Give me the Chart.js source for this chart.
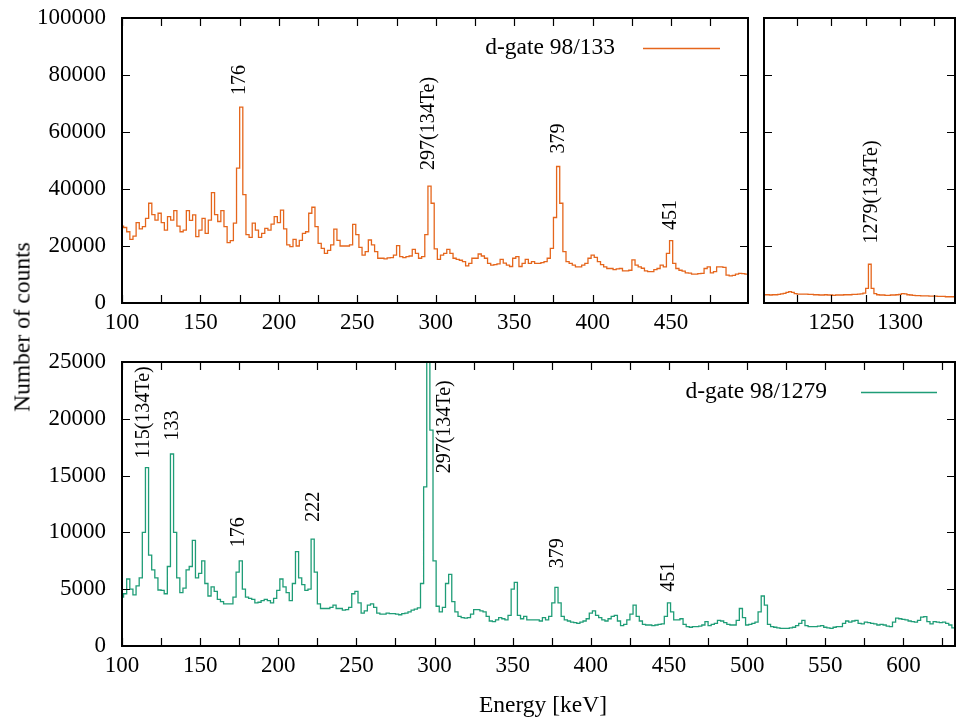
<!DOCTYPE html>
<html>
<head>
<meta charset="utf-8">
<script src="https://cdn.jsdelivr.net/npm/chart.js@4.4.1/dist/chart.umd.min.js"></script>
<style>
  body { margin: 0; width: 956px; height: 721px; background: #fff; overflow: hidden; position: relative; font-family: 'Liberation Serif', 'Times New Roman', serif; }
  .panel { position: absolute; }
  .axis-title { position: absolute; font-size: 23.5px; color: #000; white-space: nowrap; }
</style>
</head>
<body>
<div class="panel" style="left:0;top:0;width:760px;height:340px"><canvas id="topChart"></canvas></div>
<div class="panel" style="left:752px;top:0;width:204px;height:340px"><canvas id="insetChart"></canvas></div>
<div class="panel" style="left:0;top:340px;width:956px;height:381px"><canvas id="bottomChart"></canvas></div>
<div class="axis-title" id="yTitle" style="left:22px;top:327px;transform:translate(-50%,-50%) rotate(-90deg)">Number of counts</div>
<div class="axis-title" id="xTitle" style="left:543px;top:704px;transform:translate(-50%,-50%)">Energy [keV]</div>
<script>
// histogram bins, 2 keV wide, first bin starts at *Start
const binWidth = 2;

// d-gate 98/133, low energy part
const topStart = 99;
const topCounts = [
  27000, 26500, 25000, 22300, 23500, 28200, 26000, 26800, 29700, 35000, // 99
  31000, 29100, 31500, 28200, 25600, 30300, 29100, 32400, 27000, 25000, // 119
  25600, 32400, 29000, 30900, 23300, 25600, 29700, 24400, 29100, 38700, // 139
  31000, 28600, 32400, 26800, 21200, 21900, 28000, 47300, 68700, 38000, // 159
  24000, 23000, 28000, 25600, 23000, 24400, 26200, 25600, 27700, 30300, // 179
  28200, 32600, 26000, 20400, 19800, 22300, 20000, 22000, 24400, 25000, // 199
  31500, 33600, 26800, 20900, 19200, 17400, 18500, 20400, 25900, 22000, // 219
  20000, 20000, 20000, 20400, 27600, 24000, 19500, 16800, 18000, 22100, // 239
  20400, 18000, 15700, 15700, 15500, 15800, 15900, 16800, 20100, 16300, // 259
  15900, 16300, 16500, 18800, 17400, 15700, 16300, 24000, 41000, 35000, // 279
  19000, 15300, 16800, 17400, 18800, 17400, 15700, 15300, 15000, 14500, // 299
  13000, 13900, 15700, 15700, 17200, 16500, 15700, 13900, 13300, 13500, // 319
  13700, 15300, 14000, 13300, 12800, 15700, 16300, 12800, 13900, 15300, // 339
  13900, 14500, 13900, 13900, 14200, 14500, 15700, 19200, 30000, 47900, // 359
  35000, 18000, 14500, 13900, 13300, 12700, 12700, 13300, 13900, 15700, // 379
  16800, 16000, 14500, 13500, 12700, 12100, 12100, 11700, 12000, 12100, // 399
  11300, 11300, 11500, 15100, 13300, 12700, 12200, 11300, 11000, 11000, // 419
  11700, 12100, 13300, 12700, 17400, 21900, 13900, 12100, 11500, 11200, // 439
  10600, 10500, 10100, 10100, 10300, 10400, 12100, 12700, 10600, 11000, // 459
  12700, 12700, 12500, 9800, 9500, 9700, 10100, 10400, 10300, 10100    // 479
];

// d-gate 98/133, around 1279 keV
const insetStart = 1201;
const insetCounts = [
  2900, 2900, 2800, 2900, 2900, 3000, 3200, 3400, 3700, 4000,  // 1201
  3700, 3300, 3100, 3100, 3100, 3100, 3000, 3000, 2900, 2900,  // 1221
  2800, 2800, 2900, 2800, 2800, 2700, 2800, 2800, 2800, 2900,  // 1241
  2900, 2900, 3000, 3000, 3100, 3200, 3500, 5100, 13600, 5100, // 1261
  3300, 2900, 2800, 2800, 2700, 2700, 2800, 2800, 2900, 3000,  // 1281
  3300, 3200, 2900, 2800, 2700, 2600, 2600, 2500, 2500, 2500,  // 1301
  2400, 2400, 2400, 2300, 2300, 2300, 2200, 2200, 2200, 2200   // 1321
];

// d-gate 98/1279
const bottomStart = 99;
const bottomCounts = [
  4300, 4600, 5900, 5000, 4500, 5300, 6000, 10000, 15700, 8000, // 99
  6700, 6000, 4930, 4900, 4600, 7000, 16900, 10000, 6000, 4700, // 119
  5100, 6700, 7000, 9300, 6000, 6400, 7500, 5500, 4400, 5200,   // 139
  4800, 4100, 3900, 3700, 3700, 3700, 4300, 6500, 7500, 5000,   // 159
  4300, 4200, 4100, 3800, 3850, 4000, 4100, 4000, 3800, 4200,   // 179
  4900, 5900, 5200, 4700, 4000, 5500, 8300, 6000, 5400, 4900,   // 199
  5000, 9400, 6500, 3700, 3300, 3300, 3300, 3400, 3600, 3300,   // 219
  3300, 3150, 3200, 3400, 4600, 4800, 3800, 2900, 3100, 3600,   // 239
  3700, 3400, 2900, 2800, 2800, 2900, 2850, 2850, 2800, 2750,   // 259
  2850, 2900, 3000, 3150, 3250, 3350, 5500, 14000, 32000, 19000, // 279
  7500, 3500, 3000, 3400, 5500, 6300, 3900, 3000, 2600, 2500,   // 299
  2450, 2500, 2800, 3200, 3200, 3100, 3000, 2600, 2200, 2150,   // 319
  2300, 2500, 2400, 2300, 2700, 5000, 5600, 2700, 2400, 2600,   // 339
  2300, 2300, 2300, 2300, 2200, 2500, 2300, 2600, 3800, 5160,   // 359
  3800, 2600, 2300, 2200, 2100, 2050, 2000, 2100, 2200, 2400,   // 379
  2900, 3100, 2700, 2500, 2300, 2200, 2400, 2600, 2700, 2200,   // 399
  1800, 1900, 2300, 2800, 3600, 2600, 2200, 1900, 1850, 1850,   // 419
  1800, 1850, 1900, 1950, 2600, 3800, 3000, 2300, 2300, 2400,   // 439
  1900, 1700, 1650, 1700, 1700, 1750, 1850, 2150, 1800, 1900,   // 459
  2000, 2250, 2200, 2050, 1900, 1850, 1850, 2250, 3300, 2500,   // 479
  1850, 1900, 2000, 2100, 3000, 4400, 3600, 1900, 1700, 1650,   // 499
  1600, 1550, 1550, 1560, 1600, 1650, 1800, 2000, 2250, 1800,   // 519
  1700, 1700, 1700, 1750, 1800, 1650, 1600, 1560, 1650, 1700,   // 539
  1700, 2000, 2200, 2100, 2200, 2250, 2000, 1950, 2100, 2050,   // 559
  2000, 1950, 1850, 1900, 1850, 1750, 1700, 2100, 2450, 2400,   // 579
  2350, 2300, 2200, 2150, 2100, 2250, 2550, 2580, 2150, 1950,   // 599
  2150, 2100, 2050, 2100, 2000, 1850, 1600                      // 619
];

// axis ticks
const topXTicks = [100, 125, 150, 175, 200, 225, 250, 275, 300, 325, 350, 375, 400, 425, 450, 475];
const topYTicks = [0, 20000, 40000, 60000, 80000, 100000];
const insetXTicks = [1225, 1250, 1275, 1300, 1325];
const bottomXTicks = [100, 125, 150, 175, 200, 225, 250, 275, 300, 325, 350, 375, 400, 425, 450, 475, 500, 525, 550, 575, 600, 625];
const bottomYTicks = [0, 5000, 10000, 15000, 20000, 25000];

// peak labels: text, energy and count where the text starts
const topPeakText = ['176', '297(134Te)', '379', '451'];
const topPeakEnergy = [174.8, 295.7, 378.6, 449.9];
const topPeakCount = [73000, 46700, 52500, 25600];
const insetPeakText = ['1279(134Te)'];
const insetPeakEnergy = [1279.3];
const insetPeakCount = [20900];
const bottomPeakText = ['115(134Te)', '133', '176', '222', '297(134Te)', '379', '451'];
const bottomPeakEnergy = [113.7, 132.3, 174.9, 222.9, 306.2, 378.5, 449.9];
const bottomPeakCount = [16500, 18100, 8690, 10940, 15200, 6840, 4780];

const orange = '#e5661c';
const green = '#1f9d77';
const serif = '"Liberation Serif", "Times New Roman", serif';

function histPoints(start, values) {
    const pts = values.map((v, i) => ({ x: start + i * binWidth, y: v }));
    pts.push({ x: start + values.length * binWidth, y: values[values.length - 1] });
    return pts;
}

// box with inward ticks on all four sides, peak labels and key
const framePlugin = {
    id: 'frame',
    afterDatasetsDraw(chart, args, opts) {
        const { ctx, chartArea: a } = chart;
        const x = chart.scales.x, y = chart.scales.y;
        const tl = 8;
        ctx.save();
        ctx.strokeStyle = '#000';
        ctx.lineWidth = 1.2;
        ctx.beginPath();
        x.ticks.forEach(t => {
            const px = Math.round(x.getPixelForValue(t.value)) + 0.5;
            ctx.moveTo(px, a.bottom); ctx.lineTo(px, a.bottom - tl);
            ctx.moveTo(px, a.top); ctx.lineTo(px, a.top + tl);
        });
        y.ticks.forEach(t => {
            const py = Math.round(y.getPixelForValue(t.value)) + 0.5;
            ctx.moveTo(a.left, py); ctx.lineTo(a.left + tl, py);
            ctx.moveTo(a.right, py); ctx.lineTo(a.right - tl, py);
        });
        ctx.stroke();
        ctx.lineWidth = 2;
        ctx.strokeRect(a.left, a.top, a.right - a.left, a.bottom - a.top);

        // rotated peak labels
        ctx.fillStyle = '#000';
        ctx.font = '20px ' + serif;
        ctx.textAlign = 'left';
        ctx.textBaseline = 'middle';
        opts.peakText.forEach((txt, i) => {
            ctx.save();
            ctx.translate(x.getPixelForValue(opts.peakEnergy[i]), y.getPixelForValue(opts.peakCount[i]));
            ctx.rotate(-Math.PI / 2);
            ctx.fillText(txt, 0, 0);
            ctx.restore();
        });

        // key
        const k = opts.key;
        if (k) {
            const ky = a.top + k.dy;
            ctx.font = '23.5px ' + serif;
            ctx.textAlign = 'right';
            ctx.fillText(k.text, a.right - k.textRight, ky);
            ctx.strokeStyle = opts.color;
            ctx.lineWidth = 1.5;
            ctx.beginPath();
            ctx.moveTo(a.right - k.lineStart, ky + 0.5);
            ctx.lineTo(a.right - k.lineEnd, ky + 0.5);
            ctx.stroke();
        }
        ctx.restore();
    }
};

function makePanel(id, o) {
    return new Chart(document.getElementById(id), {
        type: 'line',
        data: {
            datasets: [{
                data: histPoints(o.start, o.counts),
                borderColor: o.color,
                borderWidth: 1.3,
                pointRadius: 0,
                stepped: true,
                fill: false
            }]
        },
        options: {
            responsive: true,
            maintainAspectRatio: false,
            animation: false,
            devicePixelRatio: 1,
            layout: { padding: o.padding },
            plugins: {
                legend: { display: false },
                tooltip: { enabled: false },
                frame: {
                    peakText: o.peakText, peakEnergy: o.peakEnergy, peakCount: o.peakCount,
                    key: o.key, color: o.color
                }
            },
            scales: {
                x: {
                    type: 'linear',
                    min: o.xMin, max: o.xMax,
                    grid: { display: false, drawTicks: false },
                    border: { display: false },
                    afterBuildTicks: s => { s.ticks = o.xTicks.map(v => ({ value: v })); },
                    afterFit: s => { s.height = o.xHeight; s.paddingLeft = 0; s.paddingRight = 0; },
                    ticks: { padding: 6, maxRotation: 0, autoSkip: false, font: { family: serif, size: 23 }, color: '#000',
                             callback: v => (v % 50 === 0 ? String(v) : '') }
                },
                y: {
                    type: 'linear',
                    min: o.yTicks[0], max: o.yTicks[o.yTicks.length - 1],
                    grid: { display: false, drawTicks: false },
                    border: { display: false },
                    afterBuildTicks: s => { s.ticks = o.yTicks.map(v => ({ value: v })); },
                    afterFit: s => { s.width = o.yWidth; s.paddingTop = 0; s.paddingBottom = 0; },
                    ticks: { display: o.yLabels, padding: 16, autoSkip: false, font: { family: serif, size: 23 }, color: '#000',
                             callback: v => String(v) }
                }
            }
        },
        plugins: [framePlugin]
    });
}

function drawAll() {
    makePanel('topChart', {
        start: topStart, counts: topCounts, color: orange,
        xMin: 100, xMax: 499, xTicks: topXTicks, yTicks: topYTicks,
        padding: { top: 18, right: 12, left: 0, bottom: 0 }, xHeight: 37, yWidth: 122, yLabels: true,
        peakText: topPeakText, peakEnergy: topPeakEnergy, peakCount: topPeakCount,
        key: { text: 'd-gate 98/133', dy: 30, textRight: 133, lineStart: 105, lineEnd: 28 }
    });

    makePanel('insetChart', {
        start: insetStart, counts: insetCounts, color: orange,
        xMin: 1201, xMax: 1340, xTicks: insetXTicks, yTicks: topYTicks,
        padding: { top: 18, right: 1, left: 0, bottom: 0 }, xHeight: 37, yWidth: 12, yLabels: false,
        peakText: insetPeakText, peakEnergy: insetPeakEnergy, peakCount: insetPeakCount,
        key: null
    });

    makePanel('bottomChart', {
        start: bottomStart, counts: bottomCounts, color: green,
        xMin: 100, xMax: 633, xTicks: bottomXTicks, yTicks: bottomYTicks,
        padding: { top: 22, right: 1, left: 0, bottom: 0 }, xHeight: 75, yWidth: 122, yLabels: true,
        peakText: bottomPeakText, peakEnergy: bottomPeakEnergy, peakCount: bottomPeakCount,
        key: { text: 'd-gate 98/1279', dy: 30, textRight: 128, lineStart: 94, lineEnd: 18 }
    });
}

// make sure the serif face is ready before the canvases draw text
if (document.fonts && document.fonts.load) {
    Promise.all([
        document.fonts.load('23px "Liberation Serif"'),
        document.fonts.load('20px "Liberation Serif"')
    ]).then(drawAll, drawAll);
} else {
    drawAll();
}
</script>
</body>
</html>
